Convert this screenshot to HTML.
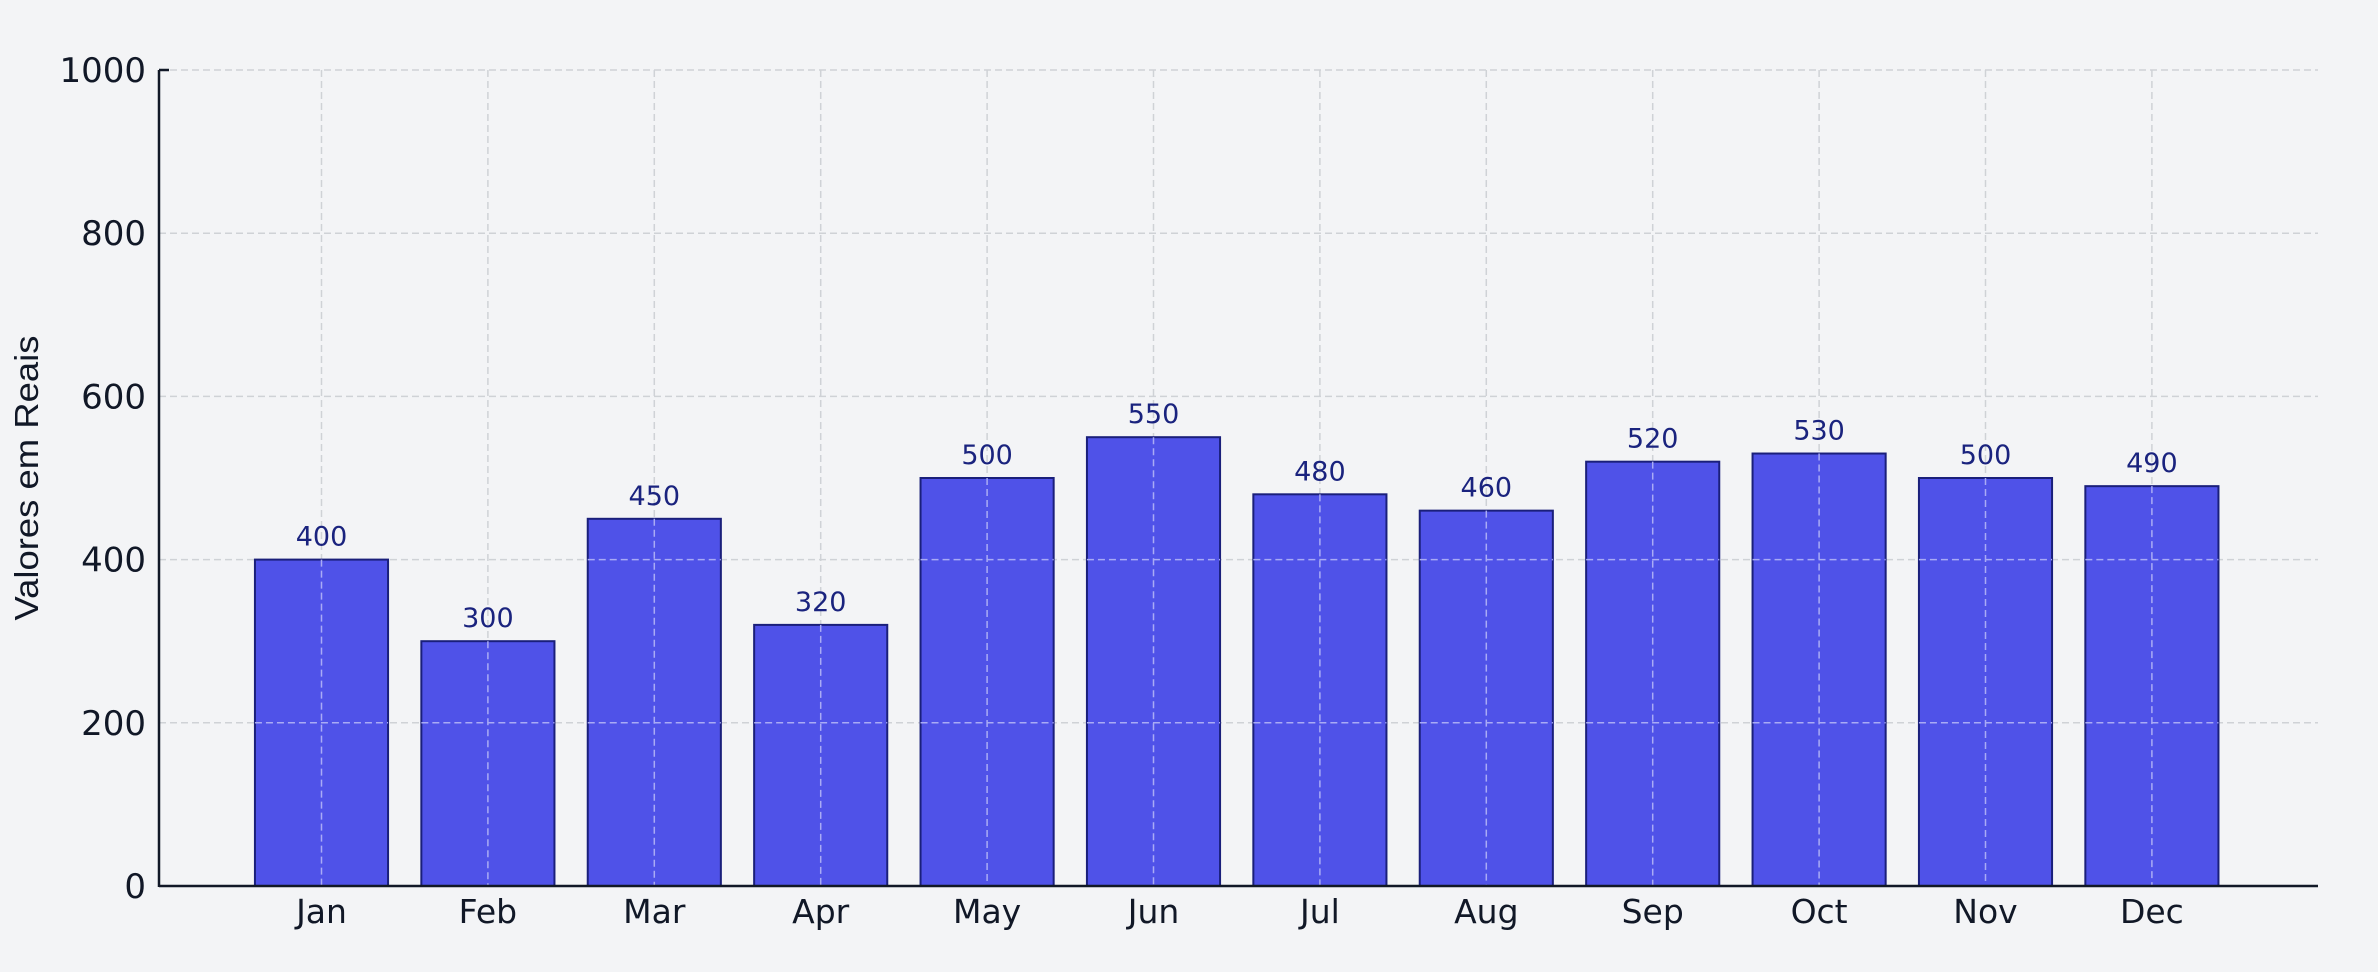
<!DOCTYPE html>
<html><head><meta charset="utf-8"><style>
html,body{margin:0;padding:0;background:#f3f4f6;}
svg{display:block;font-family:"DejaVu Sans","Liberation Sans",sans-serif;}
</style></head><body>
<svg id="chart" width="2378" height="972" viewBox="0 0 2378 972" xmlns="http://www.w3.org/2000/svg">
<rect x="0" y="0" width="2378" height="972" fill="#f3f4f6"/>
<g id="grid"></g>
<g id="bars"></g>
<g id="vgrid"></g>
<g id="axes"></g>
<text x="38" y="478" transform="rotate(-90 38 478)" text-anchor="middle" font-family="Liberation Sans, sans-serif" font-size="33" fill="#111827" textLength="285" lengthAdjust="spacingAndGlyphs">Valores em Reais</text>
</svg>
<script>
const categories = ["Jan","Feb","Mar","Apr","May","Jun","Jul","Aug","Sep","Oct","Nov","Dec"];
const values = [400,300,450,320,500,550,480,460,520,530,500,490];
const yTicks = [0,200,400,600,800,1000];

const NS = "http://www.w3.org/2000/svg";
const L = 159, R = 2318, T = 70, B = 886;
const yMax = 1000;
const x0 = 321.5, step = 166.4;
function xs(i){ return x0 + i * step; }
function ys(v){ return B - v / yMax * (B - T); }
const bw = step * 0.8;
function mk(tag, attrs, parent){ const e = document.createElementNS(NS, tag); for (const k in attrs) e.setAttribute(k, attrs[k]); parent.appendChild(e); return e; }

const grid = document.getElementById('grid');
const bars = document.getElementById('bars');
const vgrid = document.getElementById('vgrid');
const axes = document.getElementById('axes');

yTicks.forEach(function(t){
  const y = ys(t);
  const g = mk('line', {x1:L, x2:R, y1:y, y2:y, stroke:'#cfd2d6', 'stroke-width':1.5, 'stroke-dasharray':'7,4'}, grid);
  
  
  const lab = mk('text', {x:L - 13, y:y + 12, 'text-anchor':'end', 'font-size':34, fill:'#111827'}, axes);
  lab.textContent = t;
  
  
});

categories.forEach(function(c, i){
  const cx = xs(i);
  const gl = mk('line', {x1:cx, x2:cx, y1:T, y2:B, stroke:'#cfd2d6', 'stroke-width':1.5, 'stroke-dasharray':'7,4'}, grid);
  
  
  const y = ys(values[i]);
  const b = mk('rect', {x:cx - bw/2, y:y, width:bw, height:B - y, fill:'#4f52e8', stroke:'#1a1f7a', 'stroke-width':2}, bars);
  
  
  const v = mk('line', {x1:cx, x2:cx, y1:y, y2:B, stroke:'#a9abf5', 'stroke-width':1.5, 'stroke-dasharray':'7,4'}, vgrid);
  
  
  yTicks.forEach(function(t){
    if (t > 0 && t < values[i]) {
      const h = mk('line', {x1:cx - bw/2, x2:cx + bw/2, y1:ys(t), y2:ys(t), stroke:'#a9abf5', 'stroke-width':1.5, 'stroke-dasharray':'7,4'}, vgrid);
      
      
    }
  });
  const vl = mk('text', {x:cx, y:y - 14, 'text-anchor':'middle', 'font-size':27, fill:'#1a237e'}, axes);
  vl.textContent = values[i];
  
  
  const xl = mk('text', {x:cx, y:923, 'text-anchor':'middle', 'font-size':33, fill:'#111827'}, axes);
  xl.textContent = c;
  
  
});

const ya = mk('line', {x1:L, x2:L, y1:T, y2:B + 1, stroke:'#111827', 'stroke-width':2.5}, axes);


const xa = mk('line', {x1:L, x2:R, y1:B, y2:B, stroke:'#111827', 'stroke-width':2.5}, axes);


const tk = mk('line', {x1:L, x2:L + 10, y1:T, y2:T, stroke:'#111827', 'stroke-width':2.5}, axes);


</script>
</body></html>
